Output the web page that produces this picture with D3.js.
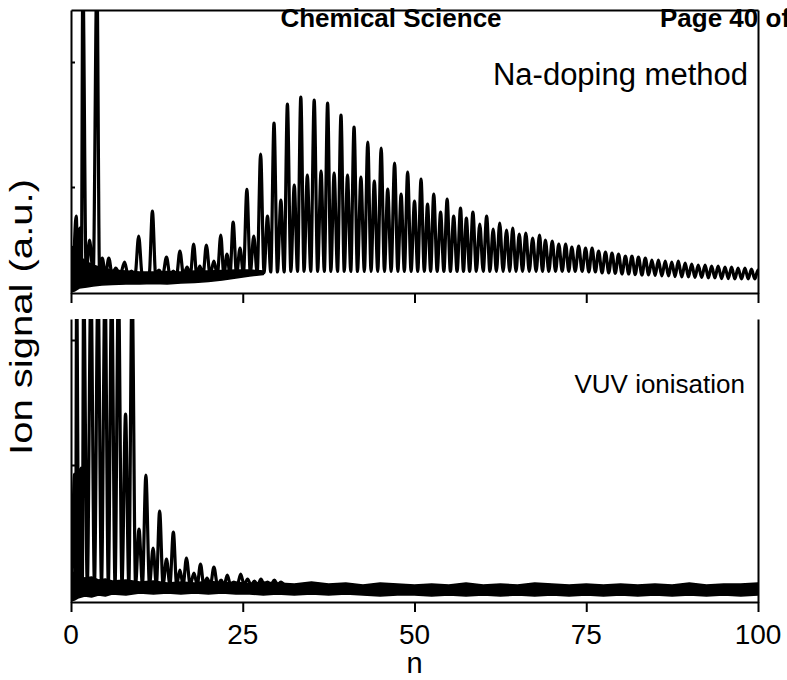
<!DOCTYPE html>
<html>
<head>
<meta charset="utf-8">
<script src="https://cdn.jsdelivr.net/npm/d3@7"></script>
<style>
  body { margin: 0; background: #fff; }
  text { font-family: "Liberation Sans", Arial, sans-serif; fill: #000; }
</style>
</head>
<body>
<div id="canvas"></div>
<script>
// --- data (signal in a.u.) ---
var xTicks = [0, 25, 50, 75, 100];

// Na-doping method: peak centres (n), peak tops and the valley that follows each peak
var naPeakN = [0.76, 1.3, 1.72, 2.7, 3.77, 4.55, 5.5, 6.5, 7.8, 8.8, 9.85, 10.9, 11.85, 12.8, 13.9, 14.9, 15.85, 16.9, 17.85, 18.75,
  19.7, 20.8, 21.8, 22.7, 23.6, 24.6, 25.6, 26.6, 27.6, 28.6, 29.55, 30.55, 31.5, 32.5, 33.45, 34.4, 35.4, 36.4, 37.35, 38.3,
  39.3, 40.25, 41.2, 42.2, 43.2, 44.15, 45.15, 46.1, 47.1, 48.05, 49.0, 50.0, 50.95, 51.9, 52.8, 53.8, 54.75, 55.7, 56.7, 57.55,
  58.5, 59.5, 60.5, 61.45, 62.4, 63.4, 64.3, 65.25, 66.2, 67.2, 68.2, 69.05, 70.05, 71.0, 72.0, 72.9, 73.9, 74.9, 75.85, 76.8,
  77.8, 78.75, 79.7, 80.7, 81.65, 82.6, 83.6, 84.55, 85.5, 86.5, 87.45, 88.4, 89.4, 90.35, 91.3, 92.3, 93.25, 94.2, 95.2, 96.15,
  97.1, 98.1, 99.05, 100];
var naPeakTop = [3.85, 3.25, 16, 2.65, 16, 1.75, 1.75, 1.25, 1.55, 1.10, 2.85, 0.95, 4.10, 1.15, 1.80, 1.10, 2.10, 1.30, 2.45, 1.35,
  2.40, 1.60, 2.90, 1.95, 3.55, 2.25, 5.18, 2.85, 6.95, 3.85, 8.50, 4.65, 9.45, 5.40, 9.80, 5.90, 9.65, 6.10, 9.50, 6.00,
  8.90, 5.90, 8.30, 5.80, 7.55, 5.60, 7.25, 5.20, 6.50, 4.95, 6.05, 4.60, 5.70, 4.45, 4.95, 4.05, 4.70, 3.85, 4.25, 3.75,
  4.05, 3.45, 3.85, 3.20, 3.50, 3.15, 3.25, 2.95, 3.00, 2.75, 2.90, 2.65, 2.60, 2.45, 2.45, 2.30, 2.35, 2.25, 2.25, 2.10,
  2.05, 2.00, 1.95, 1.85, 1.85, 1.80, 1.75, 1.65, 1.65, 1.60, 1.55, 1.60, 1.50, 1.45, 1.40, 1.40, 1.35, 1.35, 1.30, 1.30,
  1.25, 1.25, 1.20, 1.15];
var naValley = [0.9, 0.9, 0.9, 0.9, 0.9, 0.9, 0.9, 0.9, 0.9, 0.9, 0.9, 0.9, 0.9, 0.9, 0.9, 0.9, 0.9, 0.9, 0.9, 0.9,
  0.9, 0.9, 0.9, 0.9, 0.9, 0.95, 1.0, 1.0, 1.02, 1.05, 1.05, 1.05, 1.08, 1.08, 1.08, 1.08, 1.08, 1.08, 1.08, 1.08,
  1.08, 1.08, 1.08, 1.08, 1.08, 1.08, 1.08, 1.08, 1.08, 1.08, 1.08, 1.08, 1.08, 1.08, 1.08, 1.08, 1.08, 1.08, 1.08, 1.08,
  1.08, 1.08, 1.08, 1.08, 1.08, 1.08, 1.08, 1.08, 1.08, 1.08, 1.08, 1.08, 1.08, 1.08, 1.08, 1.08, 1.08, 1.05, 1.05, 1.0,
  1.0, 0.98, 0.95, 0.95, 0.92, 0.9, 0.9, 0.88, 0.85, 0.85, 0.82, 0.8, 0.8, 0.78, 0.78, 0.75, 0.75, 0.72, 0.72, 0.7,
  0.7, 0.7, 0.7, 0.7];
// noise band under the low-n part of the Na-doping trace
var naBandN  = [0, 0.5, 1.2, 2.3, 3.2, 4.5, 6, 8, 10, 12, 14, 16, 18, 20, 22, 24, 26, 28];
var naBandHi = [2.35, 2.25, 1.85, 1.55, 1.40, 1.25, 1.15, 1.10, 1.05, 1.05, 1.08, 1.05, 1.10, 1.10, 1.13, 1.15, 1.15, 1.10];
var naBandLo = [0.05, 0.10, 0.25, 0.30, 0.35, 0.40, 0.43, 0.45, 0.45, 0.48, 0.45, 0.50, 0.53, 0.58, 0.65, 0.75, 0.85, 0.93];

// VUV ionisation
var vuvPeakN = [0.53, 0.82, 1.45, 1.84, 2.9, 3.93, 4.95, 5.92, 6.9, 7.94, 8.89, 9.9, 10.9, 11.95, 12.9, 13.9, 14.9, 15.85, 16.8, 17.9,
  18.85, 19.8, 20.8, 21.85, 22.75, 23.7, 24.7, 25.7, 26.7, 27.65, 28.6, 29.6, 30.55];
var vuvPeakTop = [6.4, 16, 6.7, 16, 16, 16, 16, 16, 16, 9.4, 16, 3.65, 6.35, 2.7, 4.55, 2.15, 3.5, 1.6, 2.2, 1.45,
  1.9, 1.2, 1.75, 1.1, 1.35, 1.0, 1.4, 1.15, 1.05, 1.15, 1.0, 1.1, 1.0];
var vuvValley = [0.85, 0.85, 0.85, 0.85, 0.85, 0.85, 0.85, 0.85, 0.85, 0.85, 0.85, 0.85, 0.85, 0.85, 0.85, 0.85, 0.85, 0.85, 0.85, 0.85,
  0.85, 0.85, 0.85, 0.85, 0.85, 0.85, 0.85, 0.85, 0.85, 0.85, 0.85, 0.85, 0.85];
var vuvBandN  = [0, 0.5, 1, 2, 3, 4, 5, 6, 8, 10, 12, 14, 16, 18, 20, 22, 24, 26, 28, 30, 32.5, 35, 37.5, 40, 42.5, 45, 47.5,
  50, 52.5, 55, 57.5, 60, 62.5, 65, 67.5, 70, 72.5, 75, 77.5, 80, 82.5, 85, 87.5, 90, 92.5, 95, 97.5, 100];
var vuvBandHi = [1.4, 1.5, 1.3, 1.2, 1.25, 1.1, 1.15, 1.05, 1.1, 1.0, 1.05, 0.95, 1.0, 0.95, 1.05, 0.95, 1.0, 0.9, 1.0, 0.95,
  0.9, 1.0, 0.9, 0.95, 0.85, 0.95, 0.9, 0.85, 0.9, 0.85, 0.95, 0.85, 0.9, 0.85, 0.95, 0.9, 0.85, 0.9, 0.85, 0.9,
  0.85, 0.9, 0.85, 0.95, 0.85, 0.9, 0.9, 0.95];
var vuvBandLo = [0.05, 0.1, 0.2, 0.3, 0.25, 0.35, 0.3, 0.4, 0.35, 0.45, 0.4, 0.45, 0.4, 0.45, 0.4, 0.45, 0.4, 0.4, 0.35, 0.4,
  0.35, 0.4, 0.35, 0.4, 0.35, 0.3, 0.35, 0.35, 0.3, 0.35, 0.3, 0.35, 0.3, 0.35, 0.3, 0.35, 0.3, 0.35, 0.3, 0.35,
  0.3, 0.35, 0.3, 0.35, 0.3, 0.35, 0.3, 0.35];

var naYTicks = [5.3, 11.55];
var vuvYTicks = [6.85, 13.1];

// --- drawing ---
var w = 787, h = 680;
var svg = d3.select("#canvas").append("svg").attr("width", w).attr("height", h);

var x = d3.scaleLinear().domain([0, 100]).range([71, 758]);
var yTop = d3.scaleLinear().domain([0, 14.15]).range([293, 10]);
var yBot = d3.scaleLinear().domain([0, 14.15]).range([602, 319]);

// turn peak list into a trace: valley -> top -> valley ...
function tracePoints(pos, top, valley) {
    var pts = [[pos[0] - 0.4, valley[0]]];
    for (var i = 0; i < pos.length; i++) {
        if (i > 0) pts.push([(pos[i - 1] + pos[i]) / 2, valley[i - 1]]);
        pts.push([pos[i], top[i]]);
    }
    pts.push([pos[pos.length - 1] + 0.5, valley[pos.length - 1]]);
    return pts;
}

function drawPanel(name, y, bandN, bandHi, bandLo, pos, top, valley, yTicks) {
    var g = svg.append("g").attr("name", name);
    var clipId = "clip-" + name;
    svg.append("clipPath").attr("id", clipId).append("rect")
        .attr("x", x(0)).attr("y", y.range()[1])
        .attr("width", x(100) - x(0)).attr("height", y.range()[0] - y.range()[1]);

    var plot = g.append("g").attr("clip-path", "url(#" + clipId + ")");

    var area = d3.area().x(function(d, i) { return x(bandN[i]); })
        .y0(function(d, i) { return y(bandLo[i]); })
        .y1(function(d, i) { return y(bandHi[i]); });
    plot.append("path").datum(bandN)
        .attr("d", area)
        .attr("fill", "#000").attr("stroke", "#000").attr("stroke-width", 1.5)
        .attr("stroke-linejoin", "round");

    var line = d3.line().x(function(d) { return x(d[0]); }).y(function(d) { return y(d[1]); })
        .curve(d3.curveMonotoneX);
    plot.append("path").datum(tracePoints(pos, top, valley))
        .attr("d", line)
        .attr("fill", "none").attr("stroke", "#000").attr("stroke-width", 3.2)
        .attr("stroke-linejoin", "round").attr("stroke-linecap", "round");

    // axes
    var bottom = g.append("g").attr("transform", "translate(0," + y.range()[0] + ")")
        .call(d3.axisBottom(x).tickValues(xTicks).tickSize(10).tickSizeOuter(0).tickFormat(""));
    var left = g.append("g").attr("transform", "translate(" + x(0) + ",0)")
        .call(d3.axisLeft(y).tickValues(yTicks).tickSize(-4).tickSizeOuter(0).tickFormat(""));
    var right = g.append("g").attr("transform", "translate(" + x(100) + ",0)")
        .call(d3.axisRight(y).tickValues([]).tickSizeOuter(0));
    [bottom, left, right].forEach(function(a) {
        a.select(".domain").attr("stroke-width", 2);
        a.selectAll(".tick line").attr("stroke-width", 2);
    });
    return g;
}

var topPanel = drawPanel("na", yTop, naBandN, naBandHi, naBandLo, naPeakN, naPeakTop, naValley, naYTicks);
var botPanel = drawPanel("vuv", yBot, vuvBandN, vuvBandHi, vuvBandLo, vuvPeakN, vuvPeakTop, vuvValley, vuvYTicks);

topPanel.append("text").attr("x", 748).attr("y", 85)
    .attr("text-anchor", "end").style("font-size", "31px").text("Na-doping method");
botPanel.append("text").attr("x", 745).attr("y", 393)
    .attr("text-anchor", "end").style("font-size", "26px").text("VUV ionisation");

// top frame line of upper panel
svg.append("g").attr("transform", "translate(0," + yTop.range()[1] + ")")
    .call(d3.axisTop(x).tickValues(xTicks).tickSize(0).tickSizeOuter(0).tickFormat(""))
    .select(".domain").attr("stroke-width", 2);

// tick labels under the lower panel
botPanel.append("g").selectAll("text").data(xTicks).enter().append("text")
    .attr("x", function(d) { return x(d); }).attr("y", yBot.range()[0] + 42)
    .attr("text-anchor", "middle").style("font-size", "28px")
    .text(function(d) { return d; });

svg.append("text").attr("x", x(50)).attr("y", 673).attr("text-anchor", "middle")
    .style("font-size", "29px").text("n");
svg.append("text").attr("transform", "translate(32,317) rotate(-90)").attr("text-anchor", "middle")
    .attr("textLength", 276).attr("lengthAdjust", "spacingAndGlyphs")
    .style("font-size", "31px").text("Ion signal (a.u.)");

// page header over the figure
svg.append("text").attr("x", 391).attr("y", 27).attr("text-anchor", "middle")
    .style("font-size", "26px").style("font-weight", "bold").text("Chemical Science");
svg.append("text").attr("x", 660).attr("y", 27)
    .style("font-size", "26px").style("font-weight", "bold").text("Page 40 of 40");
</script>
</body>
</html>
